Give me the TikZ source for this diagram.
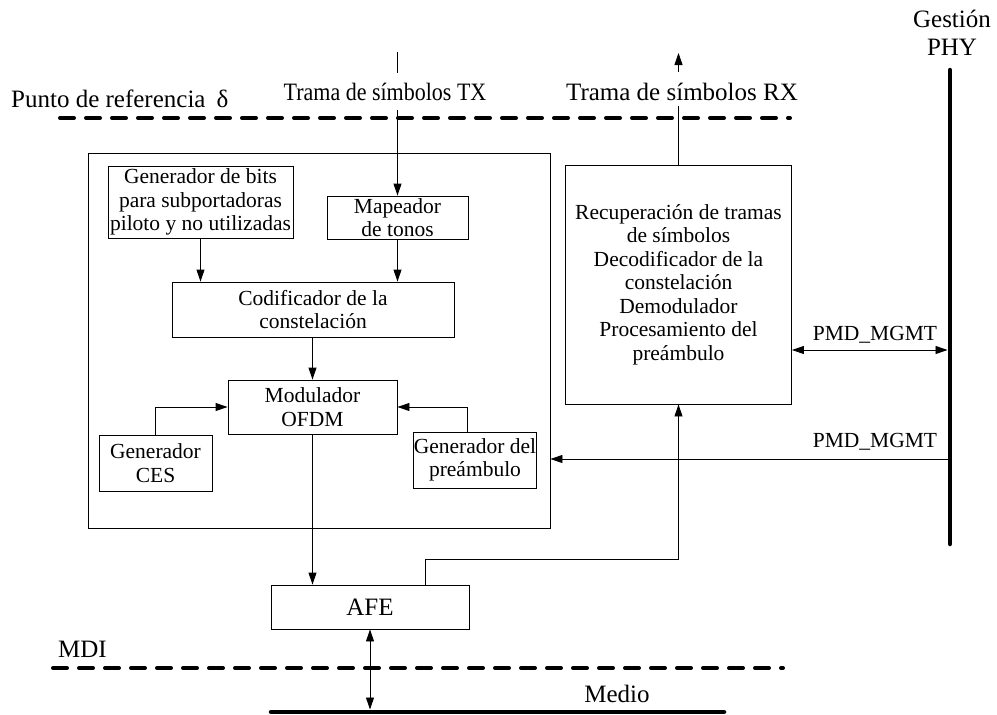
\documentclass[tikz,border=0pt]{standalone}
\usepackage{fontspec}
\setmainfont{Liberation Serif}
\newfontfamily\condserif{Liberation Serif}[FakeStretch=0.88]
\usetikzlibrary{arrows.meta}
\newcommand\biglbl{\fontsize{25}{28}\selectfont}
\begin{document}
\begin{tikzpicture}[x=1pt,y=-1pt,
  font=\fontsize{21.5}{23.5}\selectfont,
  box/.style={draw,line width=0.9pt,rectangle,inner sep=0pt,align=center},
  conn/.style={line width=0.9pt},
  arr/.style={conn,-{Triangle[length=12pt,width=8pt]}},
  darr/.style={conn,{Triangle[length=12pt,width=8pt]}-{Triangle[length=12pt,width=8pt]}},
  refline/.style={line width=4pt,dash pattern=on 14pt off 12pt,line cap=round},
  bus/.style={line width=4.5pt,line cap=round},
  lbl/.style={inner sep=0pt,anchor=base},
  biglabel/.style={lbl,font=\biglbl}]
\useasboundingbox (0,0) rectangle (997,715);

% boxes
\node[box,minimum width=462pt,minimum height=375pt] (outer) at (319,340.5) {};
\node[box,minimum width=185pt,minimum height=72pt] (gen) at (200.5,202) {Generador de bits\\para subportadoras\\piloto y no utilizadas};
\node[box,minimum width=141pt,minimum height=43pt] (map) at (397.5,217.5) {Mapeador\\de tonos};
\node[box,minimum width=282pt,minimum height=55pt] (cod) at (313,309.5) {Codificador de la\\constelación};
\node[box,minimum width=169pt,minimum height=54pt] (mod) at (312.5,407) {Modulador\\OFDM};
\node[box,minimum width=113pt,minimum height=56pt] (ces) at (155.5,463) {Generador\\CES};
\node[box,minimum width=114pt,minimum height=56pt] (pre) at (475,460) {Generador del\\preámbulo};
\node[box,minimum width=226pt,minimum height=239pt] (rx) at (678.5,284.5) {Recuperación de tramas\\de símbolos\\Decodificador de la\\constelación\\Demodulador\\Procesamiento del\\preámbulo};
\node[box,minimum width=198pt,minimum height=44pt,font=\biglbl] (afe) at (370,607) {AFE};

% labels
\node[biglabel,anchor=base west] (pref) at (11,107) {Punto de referencia\hspace{11pt}δ};
\node[biglabel] (txl) at (385,100) {\condserif Trama de símbolos TX};
\node[biglabel] (rxl) at (682,100) {Trama de símbolos RX};
\node[biglabel] (phya) at (952,27) {Gestión};
\node[biglabel] (phyb) at (952,55) {PHY};
\node[lbl] (pmd1) at (875,340) {PMD\_MGMT};
\node[lbl] (pmd2) at (875,447) {PMD\_MGMT};
\node[biglabel,anchor=base west] (mdi) at (58,657) {MDI};
\node[biglabel] (med) at (617,702) {Medio};

% reference lines
\coordinate (d1a) at (60,118); \coordinate (d1b) at (790,118);
\coordinate (d2a) at (53,668); \coordinate (d2b) at (783,668);
\draw[refline] (d1a) -- (d1b);
\draw[refline] (d2a) -- (d2b);

% PHY management bus and medium
\coordinate (bt) at (950,70); \coordinate (bb) at (950,544);
\draw[bus] (bt) -- (bb);
\coordinate (m1) at (271,712); \coordinate (m2) at (724,712);
\draw[bus] (m1) -- (m2);

% TX input
\coordinate (txtop) at (397.5,52); \coordinate (txa) at (397.5,73); \coordinate (txb) at (397.5,110);
\draw[conn] (txtop) -- (txa);
\draw[arr] (txb) -- (map.north);

% RX output
\coordinate (rxtip) at (678.5,53); \coordinate (rxa) at (678.5,72); \coordinate (rxb) at (678.5,106);
\draw[arr] (rxa) -- (rxtip);
\draw[conn] (rx.north) -- (rxb);

% internal connectors
\draw[arr] (gen.south) -- (gen.south |- cod.north);
\draw[arr] (map.south) -- (map.south |- cod.north);
\draw[arr] (mod.north |- cod.south) -- (mod.north);
\draw[arr] (ces.north) |- (mod.west);
\draw[arr] ([xshift=-8pt]pre.north) |- (mod.east);
\draw[arr] (mod.south) -- (mod.south |- afe.north);

% AFE to RX
\coordinate (el) at (678.5,559);
\draw[arr] ([xshift=55pt]afe.north) |- (el) -- (rx.south);

% management
\coordinate (p1) at (947.5,350);
\draw[darr] (rx.east |- p1) -- (p1);
\coordinate (p2) at (947.5,459);
\draw[arr] (p2) -- (p2 -| outer.east);

% AFE to medium
\coordinate (mt) at (370,709.5);
\draw[darr] (afe.south) -- (mt);
\end{tikzpicture}
\end{document}
